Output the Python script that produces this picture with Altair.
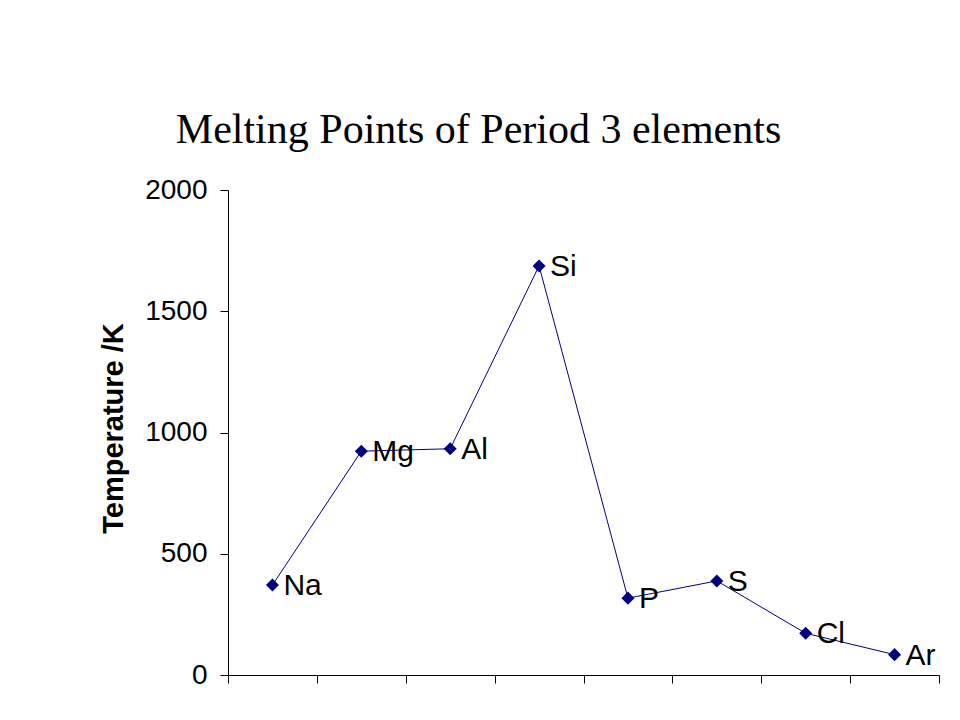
import altair as alt
import pandas as pd

elements = ["Na", "Mg", "Al", "Si", "P", "S", "Cl", "Ar"]
melting_k = [371, 923, 933, 1687, 317, 388, 172, 84]
y_ticks = [0, 500, 1000, 1500, 2000]
x_bounds = [0, 1, 2, 3, 4, 5, 6, 7, 8]

df = pd.DataFrame({"element": elements, "temp": melting_k})

NAVY = "#000080"

base = alt.Chart(df).transform_window(
    rank="row_number()"
).transform_calculate(
    pos="datum.rank - 0.5"
).encode(
    x=alt.X(
        "pos:Q",
        scale=alt.Scale(domain=[0, 8], nice=False, zero=False),
        axis=alt.Axis(
            values=x_bounds, labels=False, title=None, grid=False,
            tickSize=8, tickColor="black", domainColor="black",
            domainWidth=1, tickWidth=1,
        ),
    ),
    y=alt.Y(
        "temp:Q",
        scale=alt.Scale(domain=[0, 2000], nice=False),
        axis=alt.Axis(
            values=y_ticks, grid=False, title="Temperature /K", format="d",
            tickSize=8, tickColor="black", domainColor="black",
            domainWidth=1, tickWidth=1,
            labelFont="Liberation Sans", labelFontSize=28, labelColor="black",
            labelPadding=13,
            titleFont="Liberation Sans", titleFontSize=29, titleFontWeight="bold",
            titleColor="black", titleAngle=270, titleX=-106, titleY=238,
            titleAlign="center", titleBaseline="alphabetic",
        ),
    ),
)

line = base.mark_line(color=NAVY, strokeWidth=1).encode(order="pos:Q")
points = base.mark_point(shape="diamond", filled=True, size=170, color=NAVY, opacity=1)
labels = base.mark_text(
    align="left", baseline="middle", dx=11, dy=1, fontSize=30,
    font="Liberation Sans", color="black",
).encode(text="element:N")

chart = alt.layer(line, points, labels).properties(
    width=711,
    height=485,
    background="white",
    title=alt.TitleParams(
        "Melting Points of Period 3 elements",
        font="Liberation Serif", fontSize=42, fontWeight="normal",
        color="black", anchor="middle", dx=-105, offset=24,
    ),
    autosize=alt.AutoSizeParams(type="none"),
    padding={"left": 220, "top": 182, "right": 10, "bottom": 30},
).configure_view(stroke=None)

chart.save("out.html", embed_options={"renderer": "svg", "actions": False})
